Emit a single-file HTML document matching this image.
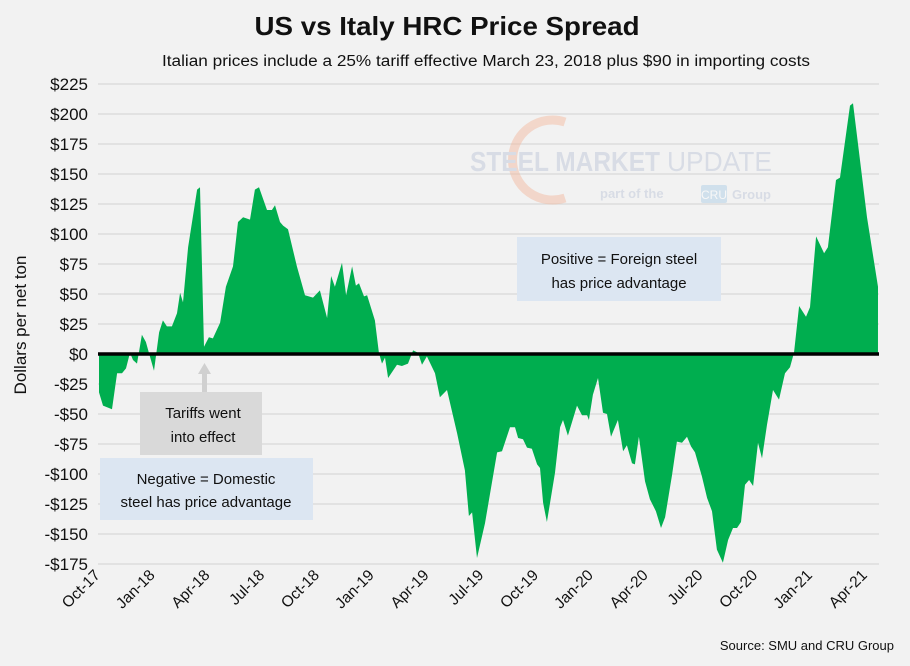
<!DOCTYPE html>
<html><head><meta charset="utf-8"><style>
html,body{margin:0;padding:0;background:#f2f2f2;}
body{width:910px;height:661px;overflow:hidden;font-family:"Liberation Sans",sans-serif;}
</style></head><body>
<svg id="chart" width="910" height="661" viewBox="0 0 910 661" xmlns="http://www.w3.org/2000/svg">
<rect width="910" height="661" fill="#f2f2f2"/>
<text x="447" y="35" text-anchor="middle" font-size="26" font-weight="bold" fill="#111" textLength="385" lengthAdjust="spacingAndGlyphs">US vs Italy HRC Price Spread</text>
<text x="486" y="66" text-anchor="middle" font-size="15.5" fill="#111" textLength="648" lengthAdjust="spacingAndGlyphs">Italian prices include a 25% tariff effective March 23, 2018 plus $90 in importing costs</text>
<g id="grid"></g>
<g opacity="0.45">
<path d="M565,122 A40,40 0 1 0 565,198" fill="none" stroke="#f4b69a" stroke-width="9"/>
<text x="470" y="171" font-size="28" font-weight="bold" fill="#b9c3d6" textLength="190" lengthAdjust="spacingAndGlyphs">STEEL MARKET</text>
<text x="667" y="171" font-size="28" fill="#b9c3d6" textLength="105" lengthAdjust="spacingAndGlyphs">UPDATE</text>
<text x="600" y="198" font-size="13" font-weight="bold" fill="#b9c3d6">part of the</text>
<rect x="701" y="185" width="26" height="18" rx="2" fill="#a9cbe6"/>
<text x="714" y="199" text-anchor="middle" font-size="12" fill="#fff">CRU</text>
<text x="732" y="199" font-size="13" font-weight="bold" fill="#b9c3d6">Group</text>
</g>
<g id="plot"></g>
<text transform="translate(26,325) rotate(-90)" text-anchor="middle" font-size="17" fill="#111">Dollars per net ton</text>
<g id="yticks"></g>
<g id="xticks"></g>
<rect x="517" y="237" width="204" height="64" fill="#dce6f2"/>
<text x="619" y="264" text-anchor="middle" font-size="15" fill="#111">Positive = Foreign steel</text>
<text x="619" y="288" text-anchor="middle" font-size="15" fill="#111">has price advantage</text>
<rect x="100" y="458" width="213" height="62" fill="#dce6f2"/>
<text x="206" y="484" text-anchor="middle" font-size="15" fill="#111">Negative = Domestic</text>
<text x="206" y="507" text-anchor="middle" font-size="15" fill="#111">steel has price advantage</text>
<rect x="140" y="392" width="122" height="63" fill="#d9d9d9"/>
<text x="203" y="418" text-anchor="middle" font-size="15" fill="#111">Tariffs went</text>
<text x="203" y="442" text-anchor="middle" font-size="15" fill="#111">into effect</text>
<g fill="#d0d0d0">
<rect x="202" y="372" width="5" height="20"/>
<polygon points="198,374 204.5,363 211,374"/>
</g>
<text x="894" y="650" text-anchor="end" font-size="13" fill="#111">Source: SMU and CRU Group</text>
</svg>
<script>
const months=[0,0.22,0.71,0.99,1.26,1.48,1.70,1.86,2.08,2.35,2.57,2.79,3.01,3.29,3.50,3.72,3.99,4.27,4.44,4.60,4.88,5.37,5.53,5.75,6.02,6.24,6.63,6.95,7.34,7.61,7.89,8.27,8.54,8.76,9.20,9.47,9.64,9.91,10.08,10.35,10.84,11.28,11.72,12.10,12.49,12.71,12.92,13.31,13.53,13.86,14.07,14.24,14.51,14.68,15.11,15.33,15.50,15.66,15.83,16.32,16.59,16.92,17.20,17.47,17.69,17.96,18.40,18.67,19.06,19.61,20.04,20.26,20.43,20.70,21.14,21.80,22.07,22.51,22.78,22.95,23.22,23.44,23.71,23.99,24.15,24.32,24.53,24.97,25.25,25.41,25.68,26.18,26.45,26.73,26.83,27.05,27.33,27.60,27.82,28.04,28.42,28.70,28.91,29.19,29.35,29.57,29.90,30.17,30.50,30.78,31.00,31.38,31.65,31.93,32.20,32.42,32.64,33.02,33.30,33.57,33.84,34.17,34.45,34.72,34.94,35.16,35.38,35.60,35.82,36.09,36.31,36.58,36.91,37.24,37.57,37.84,38.06,38.34,38.72,38.94,39.27,39.71,39.92,40.36,40.58,41.13,41.29,42.06,42.66];
const spread=[-32,-43,-46,-16,-16,-12,1,-5,-8,16,10,-2,-14,18,28,23,23,34,51,43,89,137,139,6,14,13,26,56,73,110,114,112,137,139,120,120,124,110,107,104,73,49,47,53,30,65,56,76,49,73,57,59,48,49,28,1,-8,-3,-20,-9,-10,-8,3,1,-9,-2,-16,-36,-30,-66,-97,-135,-132,-170,-141,-82,-81,-61,-61,-70,-71,-78,-79,-92,-95,-124,-140,-99,-61,-55,-68,-43,-51,-51,-55,-34,-20,-49,-50,-69,-55,-81,-76,-91,-92,-69,-106,-121,-131,-145,-136,-101,-73,-74,-69,-77,-82,-102,-120,-131,-163,-174,-155,-145,-145,-140,-109,-105,-110,-74,-87,-59,-30,-38,-16,-11,1,40,31,39,98,84,89,145,147,207,209,114,56];
const yTicks=[225,200,175,150,125,100,75,50,25,0,-25,-50,-75,-100,-125,-150,-175];
const xLabels=["Oct-17","Jan-18","Apr-18","Jul-18","Oct-18","Jan-19","Apr-19","Jul-19","Oct-19","Jan-20","Apr-20","Jul-20","Oct-20","Jan-21","Apr-21"];
const NS="http://www.w3.org/2000/svg";
const X0=98,X1=879;
function xs(m){return Math.max(X0,Math.min(X1,99+18.26*m));}
function ys(v){return 354-v*1.2;}
const grid=document.getElementById('grid');
const yt=document.getElementById('yticks');
yTicks.forEach(v=>{
 const l=document.createElementNS(NS,'line');
 
 
 l.setAttribute('x1',X0);l.setAttribute('x2',X1);l.setAttribute('y1',ys(v));l.setAttribute('y2',ys(v));
 l.setAttribute('stroke','#d9d9d9');l.setAttribute('stroke-width','1.3');
 grid.appendChild(l);
 const t=document.createElementNS(NS,'text');
 
 
 t.setAttribute('x',88);t.setAttribute('y',ys(v)+6);t.setAttribute('text-anchor','end');
 t.setAttribute('font-size','17');t.setAttribute('fill','#111');
 t.textContent=(v<0?'-$':'$')+Math.abs(v);
 yt.appendChild(t);
});
const plot=document.getElementById('plot');
let d='M'+xs(months[0])+','+ys(0);
months.forEach((m,i)=>{d+=' L'+xs(m).toFixed(1)+','+ys(spread[i]).toFixed(1);});
d+=' L'+xs(months[months.length-1])+','+ys(0)+' Z';
const area=document.createElementNS(NS,'path');


area.setAttribute('d',d);area.setAttribute('fill','#00ae4f');
plot.appendChild(area);
const zl=document.createElementNS(NS,'line');


zl.setAttribute('x1',X0);zl.setAttribute('x2',X1);zl.setAttribute('y1',ys(0));zl.setAttribute('y2',ys(0));
zl.setAttribute('stroke','#000');zl.setAttribute('stroke-width','3.5');
plot.appendChild(zl);
const xt=document.getElementById('xticks');
xLabels.forEach((s,i)=>{
 const x=99+18.26*i*3+2;
 const t=document.createElementNS(NS,'text');
 
 
 t.setAttribute('transform','translate('+x+',576) rotate(-45)');
 t.setAttribute('text-anchor','end');t.setAttribute('font-size','15.5');t.setAttribute('fill','#111');
 t.textContent=s;
 xt.appendChild(t);
});
</script>
</body></html>
